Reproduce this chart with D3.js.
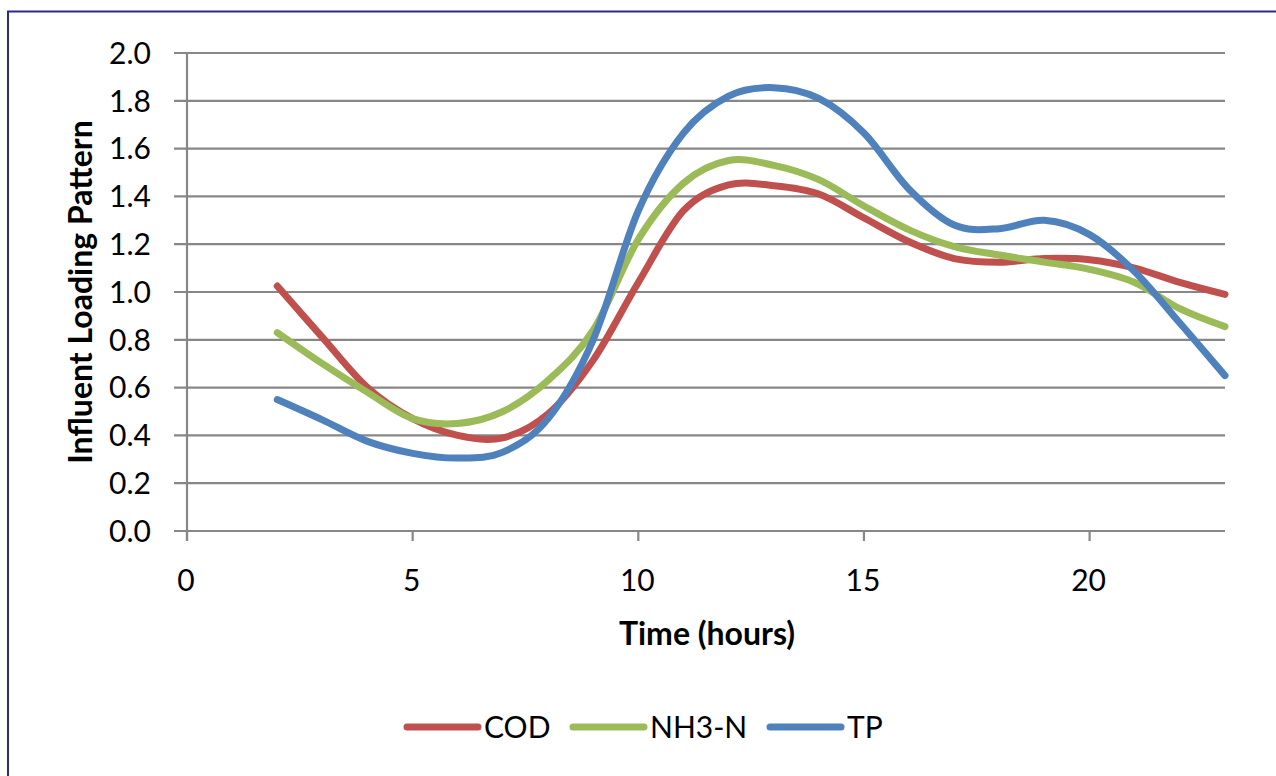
<!DOCTYPE html>
<html>
<head>
<meta charset="utf-8">
<script src="https://cdn.jsdelivr.net/npm/d3@7"></script>
<style>
  html, body { margin: 0; padding: 0; background: #fff; }
  svg { display: block; font-family: Lato, "Open Sans", sans-serif; }
</style>
</head>
<body>
<svg id="chart" width="1276" height="776"></svg>
<script>
// Hourly influent loading factors (hours 2..23)
const hours = [2, 3, 4, 5, 6, 7, 8, 9, 10, 11, 12, 13, 14, 15, 16, 17, 18, 19, 20, 21, 22, 23];
const cod  = [1.025, 0.81, 0.60, 0.47, 0.40, 0.39, 0.49, 0.715, 1.04, 1.34, 1.448, 1.445, 1.41, 1.31, 1.21, 1.14, 1.125, 1.14, 1.135, 1.10, 1.04, 0.99];
const nh3n = [0.83, 0.70, 0.58, 0.47, 0.45, 0.50, 0.63, 0.84, 1.22, 1.455, 1.55, 1.53, 1.47, 1.36, 1.26, 1.19, 1.155, 1.125, 1.095, 1.04, 0.93, 0.855];
const tp   = [0.55, 0.465, 0.375, 0.325, 0.305, 0.33, 0.47, 0.80, 1.34, 1.665, 1.82, 1.855, 1.81, 1.665, 1.43, 1.28, 1.265, 1.30, 1.24, 1.085, 0.87, 0.65];

const seriesNames  = ["COD", "NH3-N", "TP"];
const seriesValues = [cod, nh3n, tp];
const seriesColors = ["#C0504D", "#9BBB59", "#4F81BD"];

const xTicks = [0, 5, 10, 15, 20];
const yTicks = [0, 0.2, 0.4, 0.6, 0.8, 1.0, 1.2, 1.4, 1.6, 1.8, 2.0];

const svg = d3.select("#chart");

// chart frame (top and left edges)
svg.append("path")
  .attr("d", "M8,1276 V11.5 H1276")
  .attr("fill", "none")
  .attr("stroke", "#2B2B86")
  .attr("stroke-width", 2);

const x = d3.scaleLinear().domain([0, 23]).range([187, 1225]);
const y = d3.scaleLinear().domain([0, 2]).range([531, 53]);

const gridColor = "#878787";

// horizontal gridlines with outside tick stubs
svg.append("g").selectAll("line")
  .data(yTicks)
  .join("line")
  .attr("x1", 174).attr("x2", 1225)
  .attr("y1", d => y(d)).attr("y2", d => y(d))
  .attr("stroke", gridColor)
  .attr("stroke-width", 2.2);

// y axis line
svg.append("line")
  .attr("x1", x(0)).attr("x2", x(0))
  .attr("y1", y(2)).attr("y2", 541)
  .attr("stroke", gridColor)
  .attr("stroke-width", 2.2);

// x ticks
svg.append("g").selectAll("line")
  .data(xTicks)
  .join("line")
  .attr("x1", d => x(d)).attr("x2", d => x(d))
  .attr("y1", y(0)).attr("y2", 541)
  .attr("stroke", gridColor)
  .attr("stroke-width", 2.2);

// y tick labels
svg.append("g").selectAll("text")
  .data(yTicks)
  .join("text")
  .attr("x", 151)
  .attr("y", d => y(d))
  .attr("dy", "0.36em")
  .attr("text-anchor", "end")
  .attr("font-size", 30)
  .attr("fill", "#000")
  .text(d => d3.format(".1f")(d));

// x tick labels
svg.append("g").selectAll("text")
  .data(xTicks)
  .join("text")
  .attr("x", d => x(d) - 1)
  .attr("y", 591)
  .attr("text-anchor", "middle")
  .attr("font-size", 30)
  .attr("fill", "#000")
  .text(d => d);

// axis titles
svg.append("text")
  .attr("x", 707).attr("y", 645)
  .attr("text-anchor", "middle")
  .attr("font-size", 32)
  .attr("font-weight", "bold")
  .text("Time (hours)");

svg.append("text")
  .attr("transform", "translate(92,292) rotate(-90)")
  .attr("text-anchor", "middle")
  .attr("font-size", 32)
  .attr("font-weight", "bold")
  .text("Influent Loading Pattern");

// smoothed series lines
const line = d3.line()
  .x(d => x(d[0]))
  .y(d => y(d[1]))
  .curve(d3.curveCardinal.tension(0));

svg.append("g").selectAll("path")
  .data(seriesValues)
  .join("path")
  .attr("d", vals => line(hours.map((h, i) => [h, vals[i]])))
  .attr("fill", "none")
  .attr("stroke", (d, i) => seriesColors[i])
  .attr("stroke-width", 7)
  .attr("stroke-linecap", "round")
  .attr("stroke-linejoin", "round");

// legend
const legendX = [407, 573, 770];
const legend = svg.append("g").selectAll("g")
  .data(seriesNames)
  .join("g")
  .attr("transform", (d, i) => `translate(${legendX[i]},727)`);

legend.append("line")
  .attr("x1", 0).attr("x2", 71)
  .attr("stroke", (d, i) => seriesColors[i])
  .attr("stroke-width", 7)
  .attr("stroke-linecap", "round");

legend.append("text")
  .attr("x", 77)
  .attr("dy", "0.36em")
  .attr("font-size", 30)
  .text(d => d);
</script>
</body>
</html>
